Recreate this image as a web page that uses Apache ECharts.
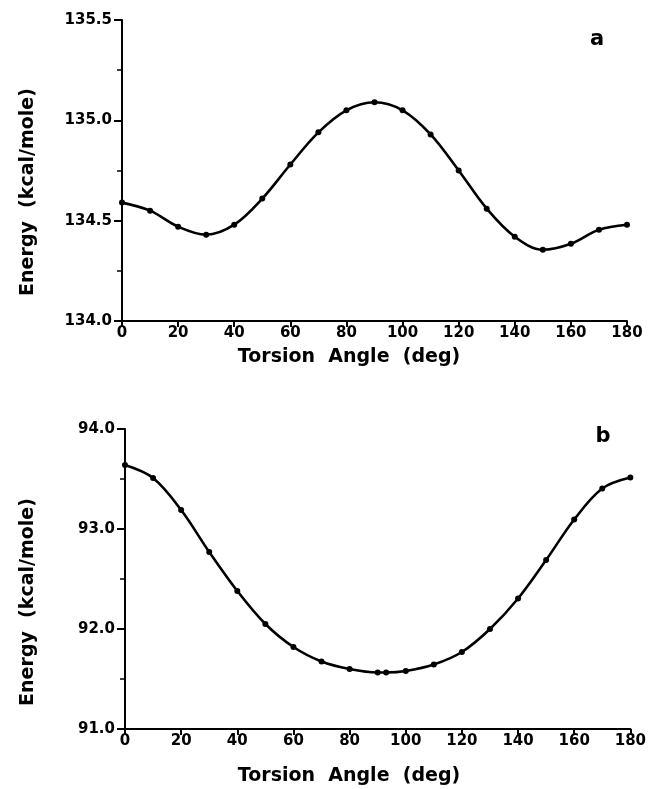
<!DOCTYPE html>
<html><head><meta charset="utf-8">
<script src="https://cdn.jsdelivr.net/npm/echarts@6/dist/echarts.min.js"></script>
<style>html,body{margin:0;padding:0;background:#fff}#c{width:649px;height:789px}</style>
</head><body><div id="c"></div>
<script>
const anglesA = [0,10,20,30,40,50,60,70,80,90,100,110,120,130,140,150,160,170,180];
const energyA = [134.59,134.55,134.47,134.43,134.48,134.61,134.78,134.94,135.05,135.09,135.05,134.93,134.75,134.56,134.42,134.355,134.385,134.455,134.48];
const anglesB = [0,10,20,30,40,50,60,70,80,90,93,100,110,120,130,140,150,160,170,180];
const energyB = [93.64,93.51,93.19,92.77,92.38,92.05,91.82,91.675,91.60,91.565,91.565,91.58,91.645,91.77,92.0,92.305,92.69,93.095,93.405,93.515];

const chart = echarts.init(document.getElementById('c'), null, {renderer:'canvas'});
const tickFont = {fontFamily:'DejaVu Sans', fontWeight:'bold', fontSize:15, color:'#000'};
function xAxis(gi){
  return {type:'value', gridIndex:gi, min:0, max:180, interval:20,
    axisLine:{lineStyle:{color:'#000', width:2}},
    axisTick:{length:6, lineStyle:{color:'#000', width:2}},
    splitLine:{show:false},
    axisLabel:Object.assign({margin:5}, tickFont)};
}
function yAxis(gi, min, max, interval){
  return {type:'value', gridIndex:gi, min:min, max:max, interval:interval,
    axisLine:{show:true, lineStyle:{color:'#000', width:2}},
    axisTick:{show:true, length:8, lineStyle:{color:'#000', width:2}},
    minorTick:{show:true, splitNumber:2, length:5, lineStyle:{color:'#000', width:1.5}},
    splitLine:{show:false},
    axisLabel:Object.assign({margin:10, formatter:v=>v.toFixed(1)}, tickFont)};
}
const pairsA = anglesA.map((a,i)=>[a, energyA[i]]);
const pairsB = anglesB.map((a,i)=>[a, energyB[i]]);
const titleFont = {fontFamily:'DejaVu Sans', fontSize:19, fill:'#000', fontWeight:'bold'};
chart.setOption({
  animation:false,
  backgroundColor:'#fff',
  grid:[{left:122, top:20, width:505, height:301},
        {left:125, top:429, width:507, height:300}],
  xAxis:[xAxis(0), xAxis(1)],
  yAxis:[yAxis(0,134,135.5,0.5), yAxis(1,91,94,1)],
  series:[
    {type:'line', xAxisIndex:0, yAxisIndex:0, data:pairsA, smooth:0.35,
     symbol:'circle', symbolSize:6, itemStyle:{color:'#000'}, lineStyle:{color:'#000', width:2.6}},
    {type:'line', xAxisIndex:1, yAxisIndex:1, data:pairsB, smooth:0.35,
     symbol:'circle', symbolSize:6, itemStyle:{color:'#000'}, lineStyle:{color:'#000', width:2.6}}
  ],
  graphic:[
    {type:'text', x:28, y:192, rotation:Math.PI/2, style:Object.assign({text:'Energy  (kcal/mole)', align:'center', verticalAlign:'middle'}, titleFont)},
    {type:'text', x:28, y:602, rotation:Math.PI/2, style:Object.assign({text:'Energy  (kcal/mole)', align:'center', verticalAlign:'middle'}, titleFont)},
    {type:'text', x:349, y:357, style:Object.assign({text:'Torsion  Angle  (deg)', align:'center', verticalAlign:'middle'}, titleFont)},
    {type:'text', x:349, y:776, style:Object.assign({text:'Torsion  Angle  (deg)', align:'center', verticalAlign:'middle'}, titleFont)},
    {type:'text', x:597, y:40, style:{text:'a', fontFamily:'DejaVu Sans', fontWeight:'bold', fontSize:21, fill:'#000', align:'center', verticalAlign:'middle'}},
    {type:'text', x:603, y:437, style:{text:'b', fontFamily:'DejaVu Sans', fontWeight:'bold', fontSize:21, fill:'#000', align:'center', verticalAlign:'middle'}}
  ]
});
</script></body></html>
